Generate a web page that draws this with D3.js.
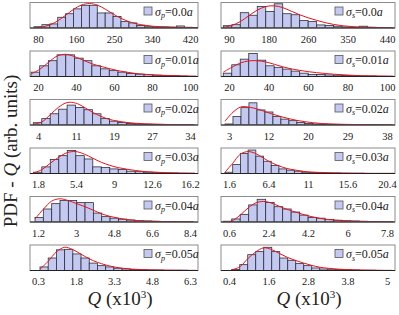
<!DOCTYPE html>
<html>
<head>
<meta charset="utf-8">
<script src="https://cdn.jsdelivr.net/npm/d3@7"></script>
<style>
  body { margin: 0; background: #fff; }
  svg text { font-family: "Liberation Serif", "DejaVu Serif", serif; }
</style>
</head>
<body>
<script>
// sigma values shown in the legends (same for both columns)
const sigmaLabels = ["0.0", "0.01", "0.02", "0.03", "0.04", "0.05"];

// tick labels, left column (sigma_p) and right column (sigma_s)
const ticksP = [
  [80, 160, 250, 340, 420],
  [20, 40, 60, 80, 100],
  [4, 11, 19, 27, 34],
  [1.8, 5.4, 9, 12.6, 16.2],
  [1.2, 3, 4.8, 6.6, 8.4],
  [0.3, 1.8, 3.3, 4.8, 6.3]
];
const ticksS = [
  [90, 180, 260, 350, 440],
  [20, 40, 60, 80, 100],
  [3, 12, 20, 29, 38],
  [1.6, 6.4, 11, 15.6, 20.4],
  [0.6, 2.4, 4.2, 6, 7.8],
  [0.4, 1.6, 2.8, 3.8, 5]
];

// histogram bins (Q x10^3): first edge and width
const binStartP = [71, 16.3, 3.07, 1.355, 1.058, 0.379];
const binWidthP = [17.7, 4.58, 1.67, 0.805, 0.395, 0.324];
const binStartS = [77.4, 17.1, 2.11, 1.124, 0.336, 0.479];
const binWidthS = [18.8, 4.3, 1.77, 0.917, 0.387, 0.233];

// bar heights (arb. units)
const countsP = [
  [0.05,0.13,0.16,0.42,0.56,0.75,0.89,0.89,0.59,0.59,0.45,0.25,0.20,0.10,0.05,0.04,0.04,0.03,0.08,0.03,0.02],
  [0.17,0.42,0.62,0.85,0.85,0.72,0.62,0.42,0.3,0.23,0.17,0.12,0.09,0.07,0.05,0.04,0.03,0.02,0.01],
  [0.09,0.25,0.44,0.62,0.78,0.69,0.6,0.44,0.25,0.15,0.1,0.06,0.04,0.03,0.02,0.02,0.01,0.01,0.01],
  [0.05,0.26,0.55,0.7,0.9,0.7,0.57,0.26,0.24,0.18,0.16,0.09,0.07,0.05,0.03,0.02,0.02,0.01,0.01],
  [0.18,0.51,0.72,0.84,0.84,0.76,0.76,0.35,0.21,0.15,0.11,0.08,0.05,0.04,0.03,0.02,0.02,0.01,0.01],
  [0.14,0.49,0.81,0.83,0.65,0.49,0.29,0.19,0.14,0.09,0.06,0.04,0.03,0.02,0.02,0.01,0.01,0.01,0.005]
];
const countsS = [
  [0.09,0.13,0.6,0.5,0.84,0.65,0.95,0.56,0.52,0.29,0.25,0.12,0.1,0.07,0.04,0.02,0.07,0.03,0.02,0.01],
  [0.13,0.46,0.68,0.9,0.64,0.42,0.36,0.29,0.21,0.13,0.08,0.08,0.06,0.05,0.04,0.03,0.02,0.02,0.01,0.01],
  [0.04,0.33,0.68,0.87,0.59,0.51,0.33,0.23,0.17,0.1,0.06,0.04,0.03,0.02,0.02,0.01,0.01,0.01,0.005,0.005,0.005],
  [0.05,0.35,0.78,0.92,0.68,0.48,0.31,0.18,0.13,0.09,0.05,0.04,0.03,0.02,0.02,0.01,0.01,0.01,0.005,0.005,0.005,0.005],
  [0.03,0.12,0.3,0.67,0.89,0.77,0.6,0.51,0.39,0.27,0.18,0.15,0.1,0.07,0.05,0.04,0.03,0.02,0.01,0.01],
  [0.04,0.23,0.62,0.74,0.91,0.74,0.49,0.4,0.27,0.19,0.1,0.06,0.05,0.04,0.03,0.02,0.01,0.01,0.005,0.005]
];

// fitted curve, read at the bin edges
const fitP = [
  [0.01,0.04,0.12,0.28,0.5,0.73,0.9,0.96,0.9,0.74,0.55,0.38,0.25,0.16,0.11,0.07,0.05,0.04,0.03,0.02,0.015,0.01],
  [0.1,0.28,0.55,0.8,0.87,0.78,0.64,0.5,0.4,0.31,0.23,0.17,0.12,0.09,0.065,0.05,0.035,0.025,0.015,0.01],
  [0.03,0.12,0.4,0.7,0.88,0.86,0.7,0.5,0.34,0.22,0.15,0.1,0.07,0.05,0.04,0.03,0.02,0.015,0.01,0.01],
  [0.02,0.15,0.4,0.64,0.82,0.86,0.76,0.6,0.44,0.32,0.23,0.17,0.12,0.08,0.06,0.04,0.03,0.02,0.015,0.01],
  [0.12,0.5,0.82,0.91,0.84,0.72,0.6,0.46,0.32,0.22,0.15,0.1,0.06,0.04,0.03,0.02,0.015,0.01,0.01,0.005],
  [0.05,0.36,0.73,0.91,0.82,0.64,0.46,0.32,0.22,0.14,0.09,0.06,0.04,0.03,0.02,0.015,0.01,0.01,0.005,0.005]
];
const fitS = [
  [0.03,0.1,0.25,0.48,0.7,0.84,0.87,0.8,0.66,0.52,0.4,0.3,0.21,0.14,0.09,0.06,0.04,0.03,0.02,0.015,0.01],
  [0.17,0.36,0.53,0.61,0.62,0.57,0.48,0.38,0.3,0.24,0.19,0.15,0.12,0.09,0.07,0.05,0.035,0.025,0.02,0.015,0.01],
  [0.15,0.5,0.71,0.7,0.63,0.53,0.42,0.33,0.25,0.18,0.13,0.09,0.06,0.045,0.035,0.025,0.02,0.015,0.01,0.01,0.005,0.005],
  [0.05,0.4,0.76,0.86,0.78,0.6,0.43,0.3,0.2,0.14,0.09,0.06,0.045,0.035,0.025,0.02,0.015,0.01,0.01,0.005,0.005,0.005,0.005],
  [0,0.04,0.27,0.57,0.77,0.8,0.7,0.56,0.44,0.34,0.24,0.17,0.11,0.08,0.05,0.035,0.025,0.015,0.01,0.005,0.005],
  [0.03,0.14,0.46,0.73,0.89,0.82,0.66,0.51,0.39,0.29,0.2,0.13,0.09,0.06,0.04,0.03,0.02,0.015,0.01,0.005,0.005]
];

const width = 399, height = 315;
const barFill = "#c3c9f1", barStroke = "#2e2e3a", fitColor = "#e8141c";

const columns = [
  { left: 30, right: 198, sub: "p", ticks: ticksP, start: binStartP, bw: binWidthP, counts: countsP, fit: fitP, swatchX: 144, labelX: 120 },
  { left: 221, right: 395, sub: "s", ticks: ticksS, start: binStartS, bw: binWidthS, counts: countsS, fit: fitS, swatchX: 335, labelX: 309 }
];
const panelH = 25.5;
const rowTop = i => 2.5 + 48.5 * i;

const svg = d3.select("body").append("svg")
  .attr("width", width)
  .attr("height", height);

columns.forEach((col, c) => {
  sigmaLabels.forEach((sig, i) => {
    const top = rowTop(i), bottom = top + panelH;
    const ticks = col.ticks[i];

    const x = d3.scaleLinear()
      .domain([ticks[0], ticks[ticks.length - 1]])
      .range([col.left + 8, col.right - 8]);
    const tickPos = d3.scalePoint()
      .domain(ticks.map(String))
      .range([col.left + 8, col.right - 8]);
    const y = d3.scaleLinear().domain([0, 1]).range([bottom, top]);

    const clipId = `clip-${c}-${i}`;
    svg.append("clipPath").attr("id", clipId)
      .append("rect")
      .attr("x", col.left).attr("y", top)
      .attr("width", col.right - col.left).attr("height", panelH);

    const g = svg.append("g");
    const plot = g.append("g").attr("clip-path", `url(#${clipId})`);

    const bins = col.counts[i].map((v, k) => ({
      x0: col.start[i] + k * col.bw[i],
      x1: col.start[i] + (k + 1) * col.bw[i],
      v
    }));

    plot.selectAll("rect.bar")
      .data(bins)
      .join("rect")
      .attr("class", "bar")
      .attr("x", d => x(d.x0))
      .attr("y", d => y(d.v))
      .attr("width", d => x(d.x1) - x(d.x0))
      .attr("height", d => y(0) - y(d.v))
      .attr("fill", barFill)
      .attr("stroke", barStroke)
      .attr("stroke-width", 0.8);

    const fitPts = col.fit[i].map((v, k) => [col.start[i] + k * col.bw[i], v]);
    plot.append("path")
      .datum(fitPts)
      .attr("fill", "none")
      .attr("stroke", fitColor)
      .attr("stroke-width", 1)
      .attr("d", d3.line().x(d => x(d[0])).y(d => y(d[1])).curve(d3.curveCatmullRom));

    // frame
    g.append("rect")
      .attr("x", col.left).attr("y", top)
      .attr("width", col.right - col.left).attr("height", panelH)
      .attr("fill", "none")
      .attr("stroke", "#8c8c8c")
      .attr("stroke-width", 1);
    g.append("line")
      .attr("x1", col.left).attr("x2", col.right)
      .attr("y1", bottom).attr("y2", bottom)
      .attr("stroke", "#222").attr("stroke-width", 1);

    // tick labels
    const ax = g.append("g")
      .attr("transform", `translate(0,${bottom})`)
      .call(d3.axisBottom(tickPos).tickSize(0).tickPadding(7.5));
    ax.select(".domain").remove();
    ax.selectAll("text")
      .attr("font-family", "Liberation Serif")
      .attr("font-size", 10.5)
      .attr("fill", "#222");

    // legend
    g.append("rect")
      .attr("x", col.swatchX).attr("y", top + 4.5)
      .attr("width", 8).attr("height", 8)
      .attr("fill", barFill)
      .attr("stroke", "#555")
      .attr("stroke-width", 0.8);
    const lt = g.append("text")
      .attr("x", col.swatchX + 11)
      .attr("y", top + 13)
      .attr("font-size", 12)
      .attr("fill", "#222");
    lt.append("tspan").attr("font-style", "italic").text("σ");
    lt.append("tspan").attr("font-style", "italic").attr("font-size", 8).attr("dy", 2.5).text(col.sub);
    lt.append("tspan").attr("dy", -2.5).text("=" + sig);
    lt.append("tspan").attr("font-style", "italic").text("a");
  });

  // x axis title
  const xt = svg.append("text")
    .attr("x", col.labelX).attr("y", 305)
    .attr("text-anchor", "middle")
    .attr("font-size", 19)
    .attr("fill", "#222");
  xt.append("tspan").attr("font-style", "italic").text("Q");
  xt.append("tspan").text(" (x10");
  xt.append("tspan").attr("font-size", 11).attr("dy", -7).text("3");
  xt.append("tspan").attr("dy", 7).text(")");
});

// y axis title
const yt = svg.append("text")
  .attr("transform", "translate(17,151) rotate(-90)")
  .attr("text-anchor", "middle")
  .attr("font-size", 19)
  .attr("fill", "#222");
yt.append("tspan").text("PDF - ");
yt.append("tspan").attr("font-style", "italic").text("Q");
yt.append("tspan").text(" (arb. units)");
</script>
</body>
</html>
